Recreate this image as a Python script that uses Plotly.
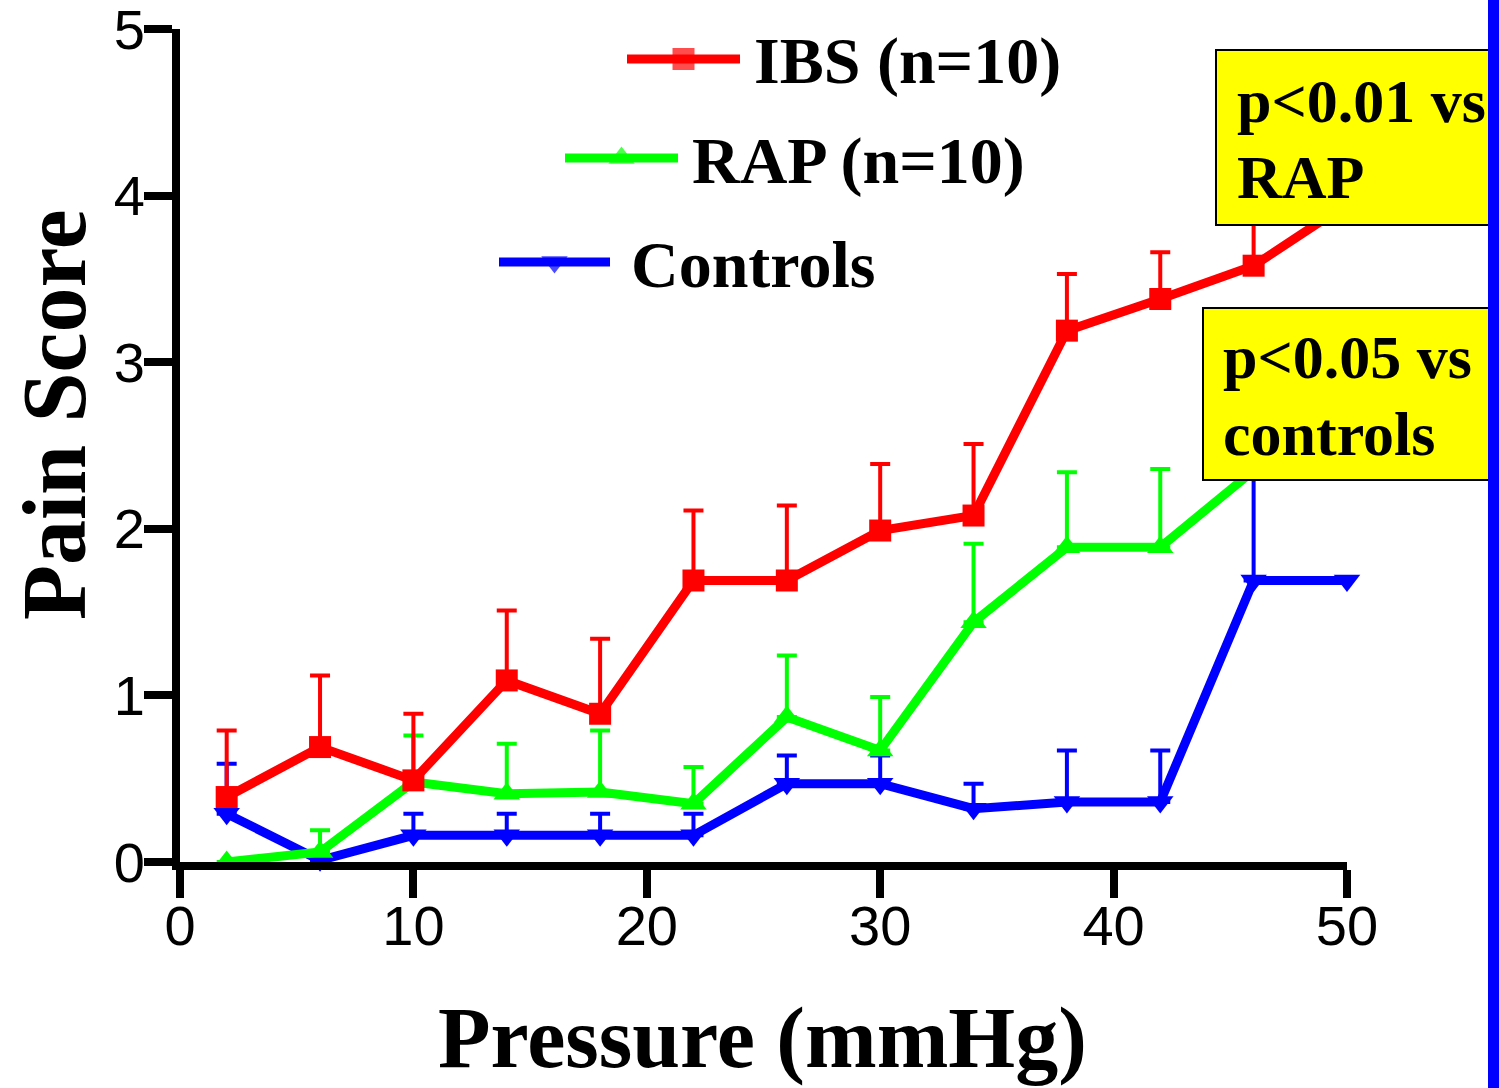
import plotly.graph_objects as go

# ---- data ----
pressure = [2, 6, 10, 14, 18, 22, 26, 30, 34, 38, 42, 46, 50]

ibs_mean = [0.39, 0.69, 0.49, 1.09, 0.89, 1.69, 1.69, 1.99, 2.08, 3.19, 3.38, 3.58, 3.95]
ibs_sem = [0.40, 0.43, 0.40, 0.42, 0.45, 0.42, 0.45, 0.40, 0.43, 0.34, 0.28, 0.42, 0.30]

rap_mean = [0.00, 0.06, 0.48, 0.41, 0.42, 0.35, 0.87, 0.67, 1.44, 1.89, 1.89, 2.35, 2.70]
rap_sem = [None, 0.13, 0.28, 0.30, 0.37, 0.22, 0.37, 0.32, 0.47, 0.45, 0.47, 0.40, 0.40]

ctl_mean = [0.29, 0.01, 0.16, 0.16, 0.16, 0.16, 0.47, 0.47, 0.32, 0.36, 0.36, 1.69, 1.69]
ctl_sem = [0.30, None, 0.13, 0.13, 0.13, 0.13, 0.17, 0.17, 0.15, 0.31, 0.31, 0.85, None]

series_names = ["IBS (n=10)", "RAP (n=10)", "Controls"]
x_ticks = [0, 10, 20, 30, 40, 50]
y_ticks = [0, 1, 2, 3, 4, 5]

# ---- styles ----
RED, GREEN, BLUE = "#FF0000", "#00FF00", "#0000FF"
SERIF = "Liberation Serif"
W, H = 1499, 1088
# plot area in page pixels: x 180..1347, y 29..862
PL, PR, PT, PB = 180, 1347, 29, 862
L, R, T, B = PL, W - PR, PT, H - PB
PW, PH = PR - PL, PB - PT


def px(xpix):
    return (xpix - PL) / PW


def py(ypix):
    return (PB - ypix) / PH


fig = go.Figure()

specs = [
    (ctl_mean, ctl_sem, BLUE, "triangle-down", 23),
    (rap_mean, rap_sem, GREEN, "triangle-up", 23),
    (ibs_mean, ibs_sem, RED, "square", 22),
]
for mean, sem, col, sym, msize in specs:
    fig.add_trace(go.Scatter(
        x=pressure, y=mean, mode="lines+markers",
        line=dict(color=col, width=9),
        marker=dict(symbol=sym, size=msize, color=col, line=dict(width=0)),
        error_y=dict(type="data", symmetric=False, array=sem,
                     arrayminus=[0] * len(sem), color=col,
                     thickness=4, width=10),
        cliponaxis=False, showlegend=False,
    ))

# ---- custom legend (drawn on an overlay axis spanning the plot area) ----
legend_specs = [
    (series_names[0], RED, "square", 22, 627, 740, 59, 752, 61),
    (series_names[1], GREEN, "triangle-up", 23, 565, 678, 158, 690, 161),
    (series_names[2], BLUE, "triangle-down", 23, 499, 610, 262, 629, 264),
]
annotations = []
for name, col, sym, msize, x0, x1, yl, xt, yt in legend_specs:
    fig.add_trace(go.Scatter(
        x=[px(x0), px((x0 + x1) / 2), px(x1)], y=[py(yl)] * 3,
        xaxis="x2", yaxis="y2", mode="lines+markers",
        line=dict(color=col, width=9),
        marker=dict(symbol=sym, size=[0, msize, 0], color=col, line=dict(width=0)),
        cliponaxis=False, showlegend=False, hoverinfo="skip",
    ))
    annotations.append(dict(
        text=name, xref="paper", yref="paper", x=px(xt), y=py(yt),
        xanchor="left", yanchor="middle", showarrow=False,
        font=dict(family=SERIF, size=66, color="black", weight="bold"),
    ))

# axis titles
annotations.append(dict(
    text="Pressure (mmHg)", xref="paper", yref="paper", x=px(762), y=py(1038),
    xanchor="center", yanchor="middle", showarrow=False,
    font=dict(family=SERIF, size=86, color="black", weight="bold"),
))
annotations.append(dict(
    text="Pain Score", xref="paper", yref="paper", x=px(54), y=py(415),
    xanchor="center", yanchor="middle", showarrow=False, textangle=-90,
    font=dict(family=SERIF, size=90, color="black", weight="bold"),
))

# significance boxes text
for txt, xt, yt in [("p<0.01 vs", 1235, 101), ("RAP", 1235, 177),
                    ("p<0.05 vs", 1221, 357), ("controls", 1221, 434)]:
    annotations.append(dict(
        text=txt, xref="paper", yref="paper", x=px(xt), y=py(yt),
        xanchor="left", yanchor="middle", showarrow=False,
        font=dict(family=SERIF, size=62, color="black", weight="bold"),
    ))

shapes = [
    dict(type="rect", xref="paper", yref="paper", x0=px(1216), x1=px(1560),
         y0=py(225), y1=py(50), fillcolor="#FFFF00",
         line=dict(color="black", width=2), layer="above"),
    dict(type="rect", xref="paper", yref="paper", x0=px(1203), x1=px(1560),
         y0=py(480), y1=py(308), fillcolor="#FFFF00",
         line=dict(color="black", width=2), layer="above"),
    dict(type="rect", xref="paper", yref="paper", x0=px(1488), x1=px(1560),
         y0=py(1150), y1=py(-50), fillcolor=BLUE,
         line=dict(width=0), layer="above"),
]

tickfont = dict(family="Liberation Sans", size=56, color="black")
axis_common = dict(ticks="outside", ticklen=28, tickwidth=8, tickcolor="black",
                   showline=True, linewidth=8, linecolor="black",
                   showgrid=False, zeroline=False, tickfont=tickfont,
                   automargin=False, ticklabeloverflow="allow")
fig.update_layout(
    width=W, height=H,
    margin=dict(l=L, r=R, t=T, b=B, pad=0),
    paper_bgcolor="white", plot_bgcolor="white",
    xaxis=dict(range=[0, 50.001], tickvals=x_ticks, ticklabelstandoff=-20,
               **axis_common),
    yaxis=dict(range=[0, 5.001], tickvals=y_ticks, ticklabelstandoff=-12,
               **axis_common),
    xaxis2=dict(overlaying="x", anchor="y2", range=[0, 1], visible=False),
    yaxis2=dict(overlaying="y", anchor="x2", range=[0, 1], visible=False),
    annotations=annotations, shapes=shapes, showlegend=False,
)

# remove the browser's default 8px body margin so the figure fills the window
fig.write_html("out.html",
               config={"displayModeBar": False},
               post_script="document.body.style.margin='0';"
                           "document.body.style.overflow='hidden';")
